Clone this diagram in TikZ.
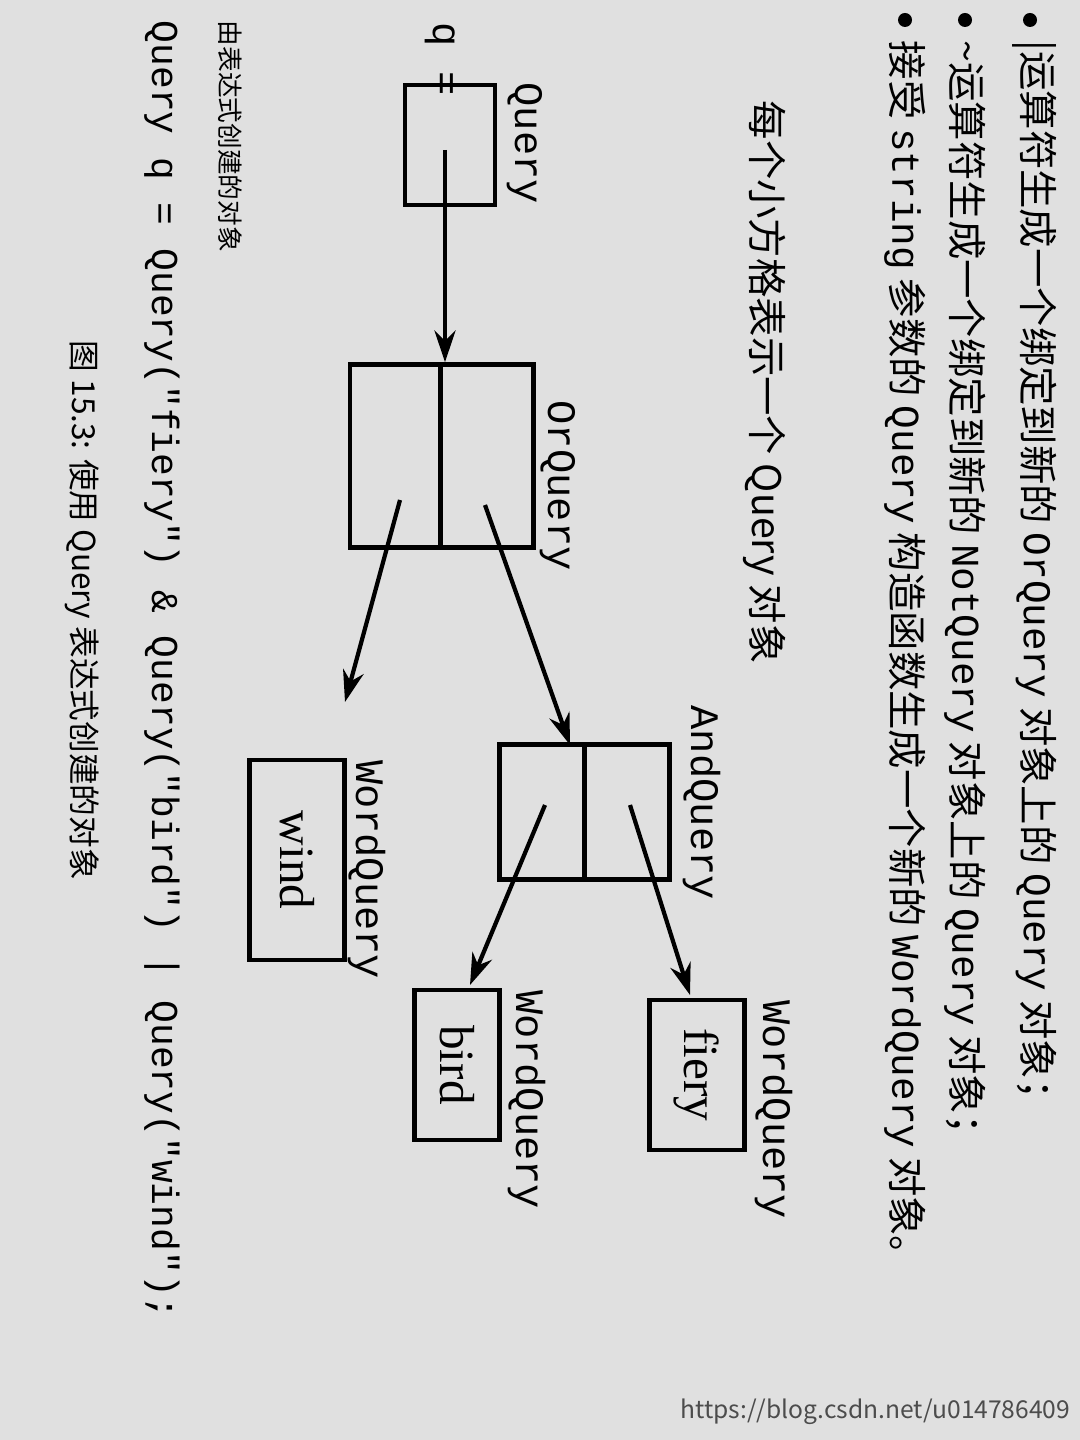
\documentclass[tikz,border=0pt]{standalone}
\usepackage{fontspec}
\setmainfont{Noto Sans CJK SC}
\setmonofont{Liberation Mono}
\newfontfamily\serifb{Liberation Serif}
\usetikzlibrary{arrows.meta}
\begin{document}
\begin{tikzpicture}[x=0.01cm,y=-0.01cm,
  txt/.style={rotate=-90,anchor=west,inner sep=0pt},
  big/.style={txt,font=\fontsize{11.2}{13}\selectfont},
  lab/.style={txt,font=\fontsize{10}{12}\selectfont},
  mlab/.style={txt,font=\ttfamily\fontsize{11.5}{14}\selectfont},
  cell/.style={draw,line width=1.3pt,rotate=-90,inner sep=0pt,minimum width=#1},
  wbox/.style={draw,line width=1.3pt,rotate=-90,inner sep=0pt,minimum width=#1,font=\serifb\fontsize{14}{16}\selectfont},
  arr/.style={-{Stealth[length=9pt,width=6pt]},line width=1.2pt}]
\fill[black!12] (0,0) rectangle (1080,1440);
\useasboundingbox (0,0) rectangle (1080,1440);
% top text
\node[big] (l1) at (1035,40) {|运算符生成一个绑定到新的 \texttt{OrQuery} 对象上的 \texttt{Query} 对象；};
\node[big] (l2) at (965,40) {\textasciitilde 运算符生成一个绑定到新的 \texttt{NotQuery} 对象上的 \texttt{Query} 对象；};
\node[big] (l3) at (905,40) {接受 \texttt{string} 参数的 \texttt{Query} 构造函数生成一个新的 \texttt{WordQuery} 对象。};
\fill (1030,20) circle (7); \fill (965,20) circle (7); \fill (905,20) circle (7);
\node[lab,font=\fontsize{11.2}{13}\selectfont] (note) at (765,100) {每个小方格表示一个 Query 对象};
% Query
\node[mlab] (qlab) at (525,82) {Query};
\node[mlab] (qeq) at (440,22) {q =};
\node[cell=1.2cm,minimum height=0.9cm] (qb) at (450,145) {};
% OrQuery
\node[cell=1.83cm,minimum height=0.9cm] (orL) at (395,456) {};
\node[cell=1.83cm,minimum height=0.93cm] (orR) at (487,456) {};
\node[mlab] (orlab) at (558,400) {OrQuery};
\draw[arr] (445,150) -- (orL.west-|445,0);
% AndQuery
\node[cell=1.35cm,minimum height=0.85cm] (anL) at (542,812) {};
\node[cell=1.35cm,minimum height=0.85cm] (anR) at (627,812) {};
\node[mlab] (anlab) at (702,705) {AndQuery};
% WordQuery
\node[wbox=2cm,minimum height=0.95cm] (wind) at (297,860) {wind};
\node[mlab] (w1) at (367,760) {WordQuery};
\node[wbox=1.5cm,minimum height=0.85cm] (bird) at (457,1065) {bird};
\node[mlab] (w2) at (527,990) {WordQuery};
\node[wbox=1.5cm,minimum height=0.95cm] (fiery) at (697,1075) {fiery};
\node[mlab] (w3) at (774,1000) {WordQuery};
% arrows
\coordinate (s1) at (400,500); \coordinate (s2) at (485,505);
\coordinate (s3) at (545,805); \coordinate (s4) at (630,805);
\draw[arr] (s1) -- (345,702);
\draw[arr] (s2) -- (570,745);
\draw[arr] (s3) -- (470,985);
\draw[arr] (s4) -- (690,995);
% bottom text
\node[lab,font=\fontsize{7.3}{9}\selectfont] (b1) at (230,20) {由表达式创建的对象};
\node[mlab,font=\ttfamily\fontsize{10.8}{13}\selectfont] (b2) at (162,20) {Query q = Query("fiery") \& Query("bird") | Query("wind");};
\node[lab,font=\fontsize{9}{11}\selectfont] (b3) at (82,340) {图 15.3: 使用 Query 表达式创建的对象};
\node[anchor=east,inner sep=2pt,font=\fontsize{7}{9}\selectfont,text=black!70] (wm) at (1078,1412) {https://blog.csdn.net/u014786409};
\end{tikzpicture}
\end{document}
